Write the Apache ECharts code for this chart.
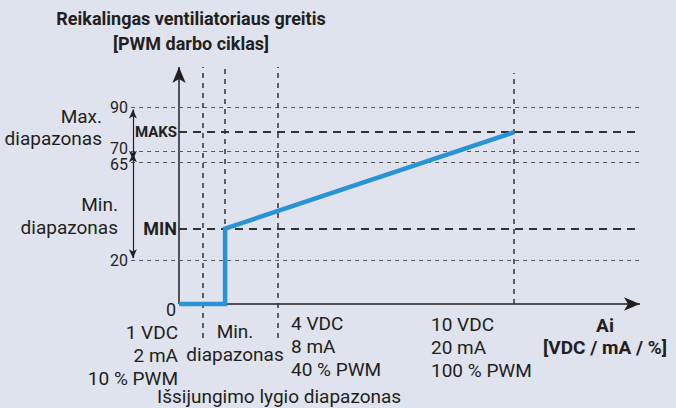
<!DOCTYPE html>
<html><head><meta charset="utf-8">
<script src="https://cdn.jsdelivr.net/npm/echarts@6/dist/echarts.min.js"></script>
<style>html,body{margin:0;padding:0;background:#dfe3ee}#c{width:676px;height:408px}</style>
</head><body><div id="c"></div>
<script>
// ---- data ----
const titleLines = ['Reikalingas ventiliatoriaus greitis', '[PWM darbo ciklas]'];
const yTickValues = [0, 20, 65, 70, 90];
const yTickLabels = ['0', '20', '65', '70', '90'];
const levelNames = ['MIN', 'MAKS'];
const levelValues = [34.5, 78.6];
// positions of the vertical guide lines (relative axis units, 0..100 = arrow end)
const xGuideValues = [5.2, 10, 21.5, 72.7];
const xGuideLabels = ['1 VDC\n2 mA\n10 % PWM', 'Min.\ndiapazonas', '4 VDC\n8 mA\n40 % PWM', '10 VDC\n20 mA\n100 % PWM'];
const curveX = [0, 10, 10, 72.7];
const curveY = [0, 0, 34.5, 78.6];
const rangeMax = [90, 70];
const rangeMin = [65, 20];
const rangeLabels = ['Max.\ndiapazonas', 'Min.\ndiapazonas'];
const xAxisName = ['Ai', '[VDC / mA / %]'];
const offLabel = 'Išsijungimo lygio diapazonas';

const FONT = 'Roboto, "Noto Sans", sans-serif';
const INK = '#231f20';
const curve = curveX.map((x, i) => [x, curveY[i]]);

const lines = [];
// axes with arrows
lines.push([{coord: [0, 0], symbol: 'none'}, {coord: [100, 0], symbol: 'arrow', symbolSize: [10, 16]}]);
lines.push([{coord: [0, 0], symbol: 'none'}, {coord: [0, 108.5], symbol: 'arrow', symbolSize: [10, 16]}]);
lines.forEach(l => { l[0].lineStyle = {color: INK, width: 1.5, type: 'solid'}; l[0].label = {show: false}; });
// horizontal short dashed (skip 0, which is the axis)
yTickValues.forEach((v, i) => {
  if (v === 0) return;
  lines.push([{coord: [-10.4, v], symbol: 'none', lineStyle: {color: '#5a5a5a', width: 1, type: [4, 4]}, label: {show: false}},
    {coord: [100, v], symbol: 'none'}]);
});
// MIN / MAKS long dashed
const levelSizes = [18, 15];
levelValues.forEach((v, i) => {
  lines.push([{coord: [0, v], symbol: 'none', lineStyle: {color: '#333', width: 1.8, type: [8, 6]},
    label: {show: true, position: 'start', formatter: levelNames[i], distance: 2, color: INK, fontSize: levelSizes[i], fontWeight: 'bold', fontFamily: FONT}},
    {coord: [100, v], symbol: 'none'}]);
});
// vertical dashed
const vBottoms = [-15.5, 0, -15.5, 0];
const vTops = [108.5, 108.5, 108.5, 105.7];
xGuideValues.forEach((x, i) => {
  lines.push([{coord: [x, vBottoms[i]], symbol: 'none', lineStyle: {color: '#333', width: 1.5, type: [5, 5]}, label: {show: false}},
    {coord: [x, vTops[i]], symbol: 'none'}]);
});
// range arrows
rangeMax.forEach((hi, i) => {
  lines.push([{coord: [-10, rangeMin[i] + 1], symbol: 'arrow', symbolSize: [6, 9], lineStyle: {color: INK, width: 1.2, type: 'solid'}, label: {show: false}},
    {coord: [-10, hi - 1], symbol: 'arrow', symbolSize: [6, 9]}]);
});

const T = (text, x, y, align, opts) => Object.assign({
  type: 'text', x: x, y: y, silent: true,
  style: Object.assign({text: text, fill: INK, font: '19px ' + FONT, align: align, textAlign: align,
    verticalAlign: 'middle', textVerticalAlign: 'middle', lineHeight: 23}, opts || {})
});

const graphics = [
  T(titleLines[0], 191, 18, 'center', {font: 'bold 18px ' + FONT}),
  T(titleLines[1], 191, 43, 'center', {font: 'bold 18px ' + FONT}),
  T(rangeLabels[0], 102, 127, 'right', {lineHeight: 22}),
  T(rangeLabels[1], 118, 216, 'right', {lineHeight: 23}),
  T(xGuideLabels[0], 178, 355, 'right'),
  T(xGuideLabels[1], 235, 343, 'center'),
  T(xGuideLabels[2], 291, 346, 'left'),
  T(xGuideLabels[3], 431, 347, 'left'),
  T(xAxisName[0], 605, 325, 'center', {font: 'bold 19px ' + FONT}),
  T(xAxisName[1], 605, 347, 'center', {font: 'bold 19px ' + FONT}),
  T(offLabel, 157, 396, 'left')
];

const chart = echarts.init(document.getElementById('c'), null, {renderer: 'svg'});
const option = {
  backgroundColor: '#dfe3ee',
  animation: false,
  grid: {left: 123.7, right: 26.8, top: 63.6, bottom: 69},
  xAxis: {type: 'value', min: -12, max: 102, show: false},
  yAxis: {type: 'value', min: -16, max: 110, show: false},
  series: [
    {type: 'line', data: [], silent: true,
     markLine: {silent: true, animation: false, symbol: 'none', data: lines}},
    {type: 'line', data: curve, showSymbol: false, silent: true, z: 5,
     lineStyle: {color: '#2a93d3', width: 4.5, join: 'miter'}}
  ]
};
chart.setOption(option);
// y tick labels placed from the axis scale (65/70 nudged apart slightly, as they sit very close)
const tickNudge = {65: 3, 70: -3};
yTickValues.forEach((v, i) => {
  const p = chart.convertToPixel({gridIndex: 0}, [v === 0 ? 0 : -10.4, v]);
  if (v === 0) graphics.push(T(yTickLabels[i], p[0] - 3, p[1] + 5, 'right', {font: '18px ' + FONT}));
  else graphics.push(T(yTickLabels[i], p[0] - 3, p[1] + (tickNudge[v] || 0), 'right', {font: '16px ' + FONT, lineHeight: 14}));
});
chart.setOption({graphic: graphics});
</script></body></html>
